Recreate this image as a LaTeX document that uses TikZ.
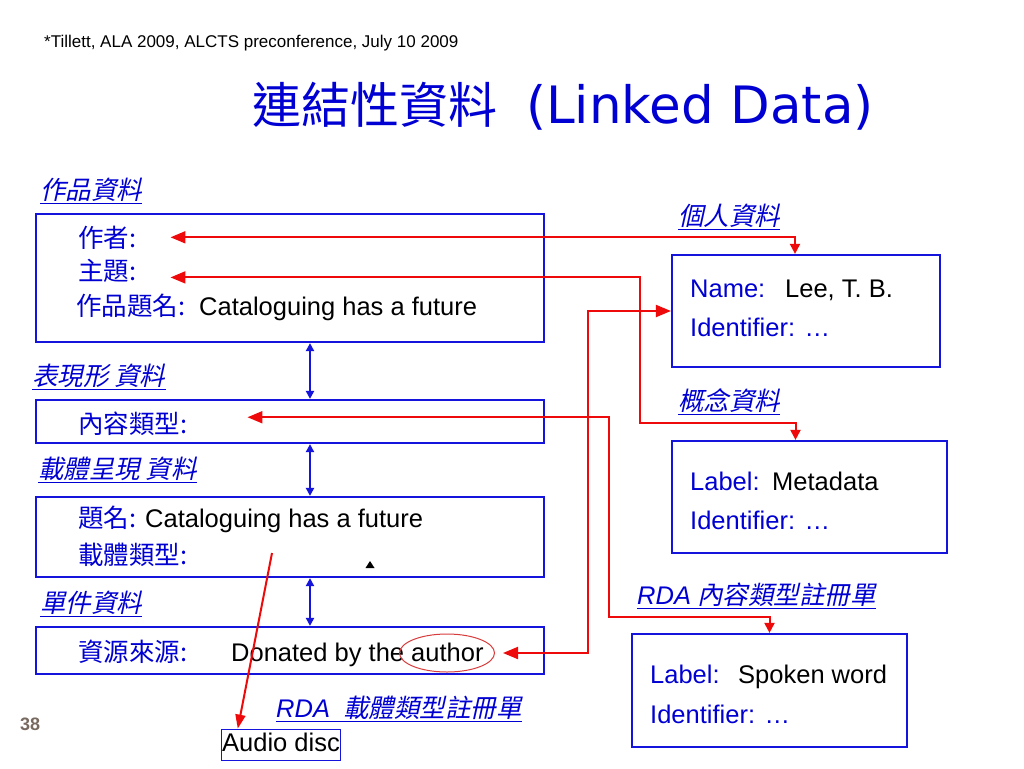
\documentclass[tikz,border=0pt]{standalone}
\usepackage{fontspec}
\setmainfont{Liberation Sans}
\newfontfamily\cjk{Noto Sans CJK TC}
\newfontfamily\cjkit[FakeSlant=0.22]{Noto Sans CJK TC}
\newfontfamily\titlefont{DejaVu Sans}
\usetikzlibrary{arrows.meta,shapes.geometric}
\definecolor{ink}{RGB}{0,0,210}
\definecolor{boxblue}{RGB}{20,20,220}
\definecolor{linkred}{RGB}{238,10,10}
\definecolor{ringred}{RGB}{215,60,60}
\definecolor{pgnum}{RGB}{120,106,96}
\tikzset{
  redbig/.tip={Triangle[length=15pt,width=12pt]},
  redsmall/.tip={Triangle[length=10pt,width=10pt]},
  bluetip/.tip={Triangle[length=8pt,width=8pt]}
}

\begin{document}
\begin{tikzpicture}[x=1pt, y=-1pt,
  box/.style={draw=boxblue, line width=2.2pt, inner sep=0pt},
  txt/.style={inner sep=0pt, anchor=base west, font=\fontsize{25.5}{30}\selectfont},
  field/.style={txt, text=ink, font=\cjk\fontsize{25.5}{30}\selectfont},
  efield/.style={txt, text=ink},
  val/.style={txt, text=black},
  tag/.style={txt, text=ink, font=\cjkit\fontsize{25.5}{30}\selectfont,
    append after command={([yshift=-4.5pt]\tikzlastnode.base west) edge[draw=ink, line width=1.3pt] ([yshift=-4.5pt]\tikzlastnode.base east)}},
  link/.style={draw=linkred, line width=2pt},
  vlink/.style={draw=boxblue, line width=2pt, bluetip-bluetip}]
			%%%%% START %%%%%
			
			\useasboundingbox (0,0) rectangle (1024,768);
			\fill[white] (0,0) rectangle (1024,768);
			
			\node[txt, font=\fontsize{17}{20}\selectfont] (cite) at (44,48) {*Tillett, ALA 2009, ALCTS preconference, July 10 2009};
			\node[txt, text=ink] (title) at (252,123) {\cjk\fontsize{49}{55}\selectfont 連結性資料\hspace{29pt}\titlefont\fontsize{51.5}{55}\selectfont (Linked Data)};
			\node[txt, text=pgnum, font=\bfseries\fontsize{18}{20}\selectfont] (page) at (20,730) {38};
			
			% left column
			\node[box, minimum width=508, minimum height=128] (work) at (290,278) {};
			\node[box, minimum width=508, minimum height=43] (expr) at (290,421.5) {};
			\node[box, minimum width=508, minimum height=80] (manif) at (290,537) {};
			\node[box, minimum width=508, minimum height=47] (item) at (290,650.5) {};
			
			\node[tag] (tagwork) at (40,199) {作品資料};
			\node[tag] (tagexpr) at (32,385) {表現形 資料};
			\node[tag] (tagmanif) at (38,478) {載體呈現 資料};
			\node[tag] (tagitem) at (40,612) {單件資料};
			
			\node[field] (author) at (78,247) {作者:};
			\node[field] (subject) at (78,280) {主題:};
			\node[field] (wtitle) at (76,315) {作品題名:};
			\node[val] (wtitleval) at (199,315) {Cataloguing has a future};
			
			\node[field] (ctype) at (78,433) {內容類型:};
			
			\node[field] (mtitle) at (78,527) {題名:};
			\node[val] (mtitleval) at (145,527) {Cataloguing has a future};
			\node[field] (mtype) at (78,564) {載體類型:};
			\fill (365.5,568) -- (374.5,568) -- (370,561) -- cycle;
			
			\node[field] (source) at (78,661) {資源來源:};
			\node[val] (sourceval) at (231,661) {Donated by the author};
			\node[draw=ringred, ellipse, line width=1pt, inner sep=0pt, minimum width=95, minimum height=38] (authring) at (447,653) {};
			
			\node[tag] (tagcarrier) at (276,717) {{\rmfamily\itshape RDA}\hspace{13pt}載體類型註冊單};
			\node[val, anchor=center, draw=boxblue, line width=0.8pt, inner xsep=1pt, inner ysep=3pt, text height=19pt, text depth=6pt] (audio) at (281,744.5) {Audio disc};
			
			% right column
			\node[tag] (tagperson) at (678,225) {個人資料};
			\node[box, minimum width=268, minimum height=112] (person) at (806,311) {};
			\node[efield] (name) at (690,297) {Name:};
			\node[val] (nameval) at (785,297) {Lee, T. B.};
			\node[efield] (pid) at (690,336) {Identifier: …};
			
			\node[tag] (tagconcept) at (678,410) {概念資料};
			\node[box, minimum width=275, minimum height=112] (concept) at (809.5,497) {};
			\node[efield] (clabel) at (690,490) {Label:};
			\node[val] (clabelval) at (772,490) {Metadata};
			\node[efield] (cid) at (690,529) {Identifier: …};
			
			\node[tag] (tagcontent) at (637,604) {{\rmfamily\itshape RDA}\hspace{6pt}內容類型註冊單};
			\node[box, minimum width=275, minimum height=113] (spoken) at (769.5,690.5) {};
			\node[efield] (slabel) at (650,683) {Label:};
			\node[val] (slabelval) at (738,683) {Spoken word};
			\node[efield] (sid) at (650,723) {Identifier: …};
			
			% links
			\draw[vlink] ([xshift=20pt]work.south) -- ([xshift=20pt]expr.north);
			\draw[vlink] ([xshift=20pt]expr.south) -- ([xshift=20pt]manif.north);
			\draw[vlink] ([xshift=20pt]manif.south) -- ([xshift=20pt]item.north);
			
			\draw[link, redbig-redsmall] ([xshift=34pt]author.east) -| ([xshift=-11pt]person.north);
			\draw[link, redbig-redsmall] ([xshift=34pt,yshift=-7pt]subject.east) -| (640,423) -| ([xshift=-14pt]concept.north);
			\draw[link, redbig-redsmall] ([xshift=60pt,yshift=6pt]ctype.east) -| (609,617) -| (spoken.north);
			\draw[link, redbig-redbig] ([xshift=8pt]authring.east) -| (588,311) -- (person.west);
			
			\coordinate (mstart) at (272,553);
			\draw[link, -{Triangle[length=14pt,width=10pt]}] (mstart) -- ([xshift=17pt]audio.north west);
			
			%%%%% END %%%%%
\end{tikzpicture}
\end{document}
